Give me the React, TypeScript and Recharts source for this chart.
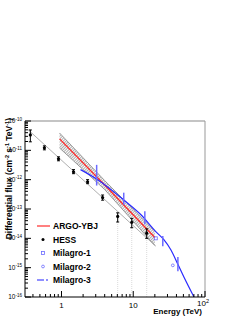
import {
  Area,
  ComposedChart,
  ErrorBar,
  Legend,
  Line,
  ReferenceLine,
  Scatter,
  XAxis,
  YAxis,
} from 'recharts';

// Energies in TeV, fluxes in cm^-2 s^-1 TeV^-1
const ARGO_E = [0.94, 4.0, 20];
const ARGO_FLUX = [2.45e-11, 6.6e-13, 1.07e-14];
const ARGO_LOW = [1.2e-11, 4.6e-13, 5.7e-15];
const ARGO_HIGH = [3.9e-11, 9.3e-13, 1.74e-14];

const HESS_E = [0.368, 0.578, 0.908, 1.47, 2.31, 3.74, 6.07, 9.53, 15.4];
const HESS_FLUX = [3.35e-11, 1.22e-11, 5.15e-12, 1.86e-12, 8.5e-13, 2.45e-13, 5.6e-14, 3.5e-14, 1.5e-14];
const HESS_LOW = [1.95e-11, 1.04e-11, 4.4e-12, 1.6e-12, 7.3e-13, 2.0e-13, 3.6e-14, 2.3e-14, 1.0e-14];
const HESS_HIGH = [4.95e-11, 1.42e-11, 6.0e-12, 2.2e-12, 1.0e-12, 3.0e-13, 7.4e-14, 4.8e-14, 2.1e-14];
const HESS_DROP_IDX = [6, 7, 8];

const HESS_FIT_E = [0.345, 20.6];
const HESS_FIT_FLUX = [4.95e-11, 5.4e-15];

const MILAGRO1_E = [20.6];
const MILAGRO1_FLUX = [1.0e-14];
const MILAGRO2_E = [35.6];
const MILAGRO2_FLUX = [1.2e-15];

const MILAGRO3_E = [1.84, 3.19, 7.85, 12.7, 20.6, 26.7, 33.4, 41.9, 50.8, 70.2];
const MILAGRO3_FLUX = [2.2e-12, 1.0e-12, 1.8e-13, 6.5e-14, 1.7e-14, 9.0e-15, 4.1e-15, 1.3e-15, 4.8e-16, 1.0e-16];
const MILAGRO3_BAR_E = [3.09, 7.37, 14.5, 25.8, 41.9];
const MILAGRO3_BAR_LOW = [6.3e-13, 1.4e-13, 3.0e-14, 5.4e-15, 7.6e-16];
const MILAGRO3_BAR_HIGH = [3.2e-12, 3.6e-13, 8.3e-14, 1.2e-14, 2.3e-15];

const X_TICKS = [0.4, 0.5, 0.6, 0.7, 0.8, 0.9, 1, 2, 3, 4, 5, 6, 7, 8, 9, 10, 20, 30, 40, 50, 60, 70, 80, 90, 100];
const Y_DECADES = [1e-16, 1e-15, 1e-14, 1e-13, 1e-12, 1e-11, 1e-10];
const Y_MINOR = [2, 3, 4, 5, 6, 7, 8, 9];
const Y_TICKS = Y_DECADES.flatMap((d, i) =>
  i < Y_DECADES.length - 1 ? [d, ...Y_MINOR.map((m) => m * d)] : [d],
);

const LEGEND_ITEMS = ['ARGO-YBJ', 'HESS', 'Milagro-1', 'Milagro-2', 'Milagro-3'];

const X_DOMAIN = [0.31, 100];
const Y_DOMAIN = [1e-16, 1e-10];

const FONT = '"Liberation Sans", Arial, Helvetica, sans-serif';
const RED = '#ff2a2a';
const BLUE = '#2a2aff';
const LIGHT_BLUE = '#6b6bff';

const argoData = ARGO_E.map((e, i) => ({ e, flux: ARGO_FLUX[i], band: [ARGO_LOW[i], ARGO_HIGH[i]] }));
const hessData = HESS_E.map((e, i) => ({
  e,
  flux: HESS_FLUX[i],
  err: [HESS_FLUX[i] - HESS_LOW[i], HESS_HIGH[i] - HESS_FLUX[i]],
}));
const hessDrop = HESS_DROP_IDX.map((i) => ({ e: HESS_E[i], flux: HESS_FLUX[i], drop: [HESS_FLUX[i] - Y_DOMAIN[0], 0] }));
const hessFit = HESS_FIT_E.map((e, i) => ({ e, flux: HESS_FIT_FLUX[i] }));
const milagro1 = MILAGRO1_E.map((e, i) => ({ e, flux: MILAGRO1_FLUX[i] }));
const milagro2 = MILAGRO2_E.map((e, i) => ({ e, flux: MILAGRO2_FLUX[i] }));
const milagro3 = MILAGRO3_E.map((e, i) => ({ e, flux: MILAGRO3_FLUX[i] }));
const milagro3Bars = MILAGRO3_BAR_E.map((e, i) => {
  const mid = Math.sqrt(MILAGRO3_BAR_LOW[i] * MILAGRO3_BAR_HIGH[i]);
  return { e, flux: mid, err: [mid - MILAGRO3_BAR_LOW[i], MILAGRO3_BAR_HIGH[i] - mid] };
});

const isMajor = (v: number) => Math.abs(Math.log10(v) - Math.round(Math.log10(v))) < 1e-6;

const XTick = ({ x, y, payload }: any) => {
  const v = payload.value;
  const major = isMajor(v);
  const exp = Math.round(Math.log10(v));
  return (
    <g>
      <line x1={x} x2={x} y1={y} y2={y - (major ? 6 : 3)} stroke="#000" strokeWidth={1} />
      {major && exp < 2 && (
        <text x={x} y={y + 11} textAnchor="middle" fontSize={8} fontFamily={FONT} fill="#000">
          {v}
        </text>
      )}
      {major && exp >= 2 && (
        <text x={x - 2} y={y + 9} textAnchor="middle" fontSize={8} fontFamily={FONT} fill="#000">
          10
          <tspan dy={-3} fontSize={5.5}>
            {exp}
          </tspan>
        </text>
      )}
    </g>
  );
};

const YTick = ({ x, y, payload }: any) => {
  const v = payload.value;
  const major = isMajor(v);
  const exp = Math.round(Math.log10(v));
  return (
    <g>
      <line x1={x} x2={x + (major ? 6 : 3)} y1={y} y2={y} stroke="#000" strokeWidth={1} />
      {major && (
        <text x={x - 3} y={y + 2} textAnchor="end" fontSize={6.5} fontFamily={FONT} fill="#000">
          10
          <tspan dy={-2.5} fontSize={4.5}>
            {exp}
          </tspan>
        </text>
      )}
    </g>
  );
};

const legendSymbol = (name: string, y: number) => {
  if (name === 'ARGO-YBJ') return <line x1={2} x2={15} y1={y} y2={y} stroke="#ff8080" strokeWidth={2} />;
  if (name === 'HESS') return <circle cx={8} cy={y} r={1.5} fill="#000" />;
  if (name === 'Milagro-1')
    return <rect x={6.5} y={y - 1.5} width={3} height={3} fill="none" stroke={LIGHT_BLUE} strokeWidth={0.8} />;
  if (name === 'Milagro-2') return <circle cx={8} cy={y} r={1.4} fill="none" stroke={LIGHT_BLUE} strokeWidth={0.8} />;
  return <line x1={2} x2={15} y1={y} y2={y} stroke={LIGHT_BLUE} strokeWidth={1.3} strokeDasharray="7 2 2 2" />;
};

const renderLegend = () => (
  <svg width={90} height={72}>
    {LEGEND_ITEMS.map((name, i) => {
      const y = 7 + i * 13.5;
      return (
        <g key={name}>
          {legendSymbol(name, y)}
          <text x={18} y={y + 3} fontSize={8.5} fontWeight="bold" fontFamily={FONT} fill="#000">
            {name}
          </text>
        </g>
      );
    })}
  </svg>
);

const Milagro1Shape = ({ cx, cy }: any) => (
  <rect x={cx - 1.5} y={cy - 1.5} width={3} height={3} fill="none" stroke={LIGHT_BLUE} strokeWidth={0.8} />
);
const Milagro2Shape = ({ cx, cy }: any) => (
  <circle cx={cx} cy={cy} r={1.4} fill="none" stroke={LIGHT_BLUE} strokeWidth={0.8} />
);
const HessDot = ({ cx, cy }: any) => <circle cx={cx} cy={cy} r={1.6} fill="#000" />;
const NoShape = () => <g />;

export default function App() {
  return (
    <div style={{ width: 247, height: 320, background: '#fff', position: 'relative' }}>
      <style>{'body{margin:0}'}</style>
      <ComposedChart
        width={247}
        height={320}
        data={argoData}
        margin={{ top: 121, right: 42, bottom: 0, left: 0 }}
      >
        <defs>
          <pattern id="hatch" width="2" height="2" patternUnits="userSpaceOnUse" patternTransform="rotate(45)">
            <line x1="0" y1="0" x2="0" y2="2" stroke="#4a4a4a" strokeWidth="0.9" />
          </pattern>
        </defs>
        <XAxis
          dataKey="e"
          type="number"
          scale="log"
          domain={X_DOMAIN}
          allowDataOverflow
          ticks={X_TICKS}
          interval={0}
          tick={<XTick />}
          tickLine={false}
          tickSize={0}
          tickMargin={0}
          height={23}
          axisLine={{ stroke: '#000', strokeWidth: 1 }}
          label={{
            content: () => (
              <text x={202} y={314} textAnchor="end" fontSize={8} fontWeight="bold" fontFamily={FONT} fill="#000">
                Energy (TeV)
              </text>
            ),
          }}
        />
        <YAxis
          type="number"
          scale="log"
          domain={Y_DOMAIN}
          allowDataOverflow
          ticks={Y_TICKS}
          interval={0}
          tick={<YTick />}
          tickLine={false}
          tickSize={0}
          tickMargin={0}
          width={25}
          axisLine={{ stroke: '#000', strokeWidth: 1 }}
          label={{
            content: () => (
              <text
                x={12}
                y={118}
                transform="rotate(-90 12 118)"
                textAnchor="end"
                fontSize={8.5}
                fontWeight="bold"
                fontFamily={FONT}
                fill="#000"
              >
                Differential flux (cm
                <tspan dy={-3} fontSize={5.5}>
                  -2
                </tspan>
                <tspan dy={3}> s</tspan>
                <tspan dy={-3} fontSize={5.5}>
                  -1
                </tspan>
                <tspan dy={3}> TeV</tspan>
                <tspan dy={-3} fontSize={5.5}>
                  -1
                </tspan>
                <tspan dy={3}>)</tspan>
              </text>
            ),
          }}
        />
        <ReferenceLine y={Y_DOMAIN[1]} stroke="#b0b0b0" strokeWidth={1.5} />
        <ReferenceLine x={X_DOMAIN[1]} stroke="#999" strokeWidth={1} />

        <Area
          type="linear"
          dataKey="band"
          fill="url(#hatch)"
          fillOpacity={1}
          stroke="#777"
          strokeWidth={0.7}
          dot={false}
          activeDot={false}
          isAnimationActive={false}
        />
        <Line
          data={hessFit}
          dataKey="flux"
          type="linear"
          stroke="#9a9a9a"
          strokeWidth={0.8}
          dot={false}
          activeDot={false}
          isAnimationActive={false}
        />
        <Line
          dataKey="flux"
          type="linear"
          stroke={RED}
          strokeWidth={1.3}
          dot={false}
          activeDot={false}
          isAnimationActive={false}
        />
        <Line
          data={milagro3}
          dataKey="flux"
          type="monotone"
          stroke={BLUE}
          strokeWidth={1.2}
          dot={false}
          activeDot={false}
          isAnimationActive={false}
        />
        <Scatter data={milagro3Bars} dataKey="flux" shape={<NoShape />} isAnimationActive={false}>
          <ErrorBar dataKey="err" direction="y" width={0} stroke={LIGHT_BLUE} strokeWidth={1.5} />
        </Scatter>
        <Scatter data={hessDrop} dataKey="flux" shape={<NoShape />} isAnimationActive={false}>
          <ErrorBar dataKey="drop" direction="y" width={0} stroke="#d0d0d0" strokeWidth={0.8} strokeDasharray="1 1" />
        </Scatter>
        <Scatter data={hessData} dataKey="flux" shape={<HessDot />} isAnimationActive={false}>
          <ErrorBar dataKey="err" direction="y" width={1.5} stroke="#000" strokeWidth={1} />
        </Scatter>
        <Scatter data={milagro1} dataKey="flux" shape={<Milagro1Shape />} isAnimationActive={false} />
        <Scatter data={milagro2} dataKey="flux" shape={<Milagro2Shape />} isAnimationActive={false} />

        <Legend
          layout="vertical"
          align="center"
          verticalAlign="middle"
          content={renderLegend}
          wrapperStyle={{ position: 'absolute', left: 35, top: 219, width: 90, height: 72 }}
        />
      </ComposedChart>
    </div>
  );
}
